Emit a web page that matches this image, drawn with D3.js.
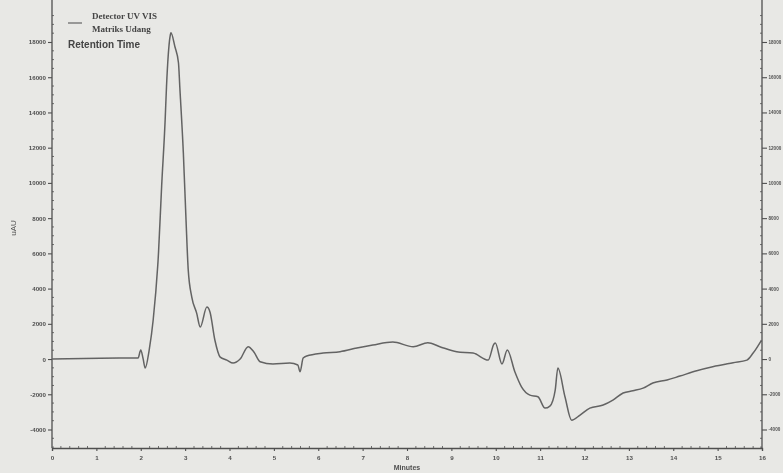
<!DOCTYPE html>
<html>
<head>
<meta charset="utf-8">
<script src="https://cdn.jsdelivr.net/npm/d3@7/dist/d3.min.js"></script>
<style>
  html, body { margin: 0; padding: 0; background: #e8e8e5; overflow: hidden; }
  svg { display: block; }
</style>
</head>
<body>
<script>
// Chromatogram: UV-VIS detector response (uAU) against retention time (minutes)
const retentionTime = [0, 1.08, 1.94, 2.00, 2.05, 2.10, 2.19, 2.28, 2.40, 2.47, 2.55, 2.58, 2.66, 2.68,
  2.77, 2.85, 2.88, 2.96, 3.02, 3.07, 3.15, 3.26, 3.34, 3.49, 3.56, 3.67, 3.79, 3.94, 4.08, 4.24,
  4.42, 4.55, 4.69, 4.98, 5.36, 5.54, 5.59, 5.66, 5.74, 6.11, 6.49, 6.87, 7.23, 7.68, 8.14, 8.47,
  8.74, 9.12, 9.49, 9.83, 9.96, 9.99, 10.14, 10.26, 10.43, 10.58, 10.77, 10.95, 11.11, 11.22, 11.34,
  11.40, 11.56, 11.71, 11.90, 12.12, 12.42, 12.64, 12.87, 13.09, 13.32, 13.54, 13.86, 14.15, 14.53,
  14.89, 15.35, 15.66, 15.80, 15.99];
const response = [0, 50, 60, 510, 60, -510, 510, 2215, 6020, 9770, 13580, 15450, 18300, 18520,
  17730, 16820, 15450, 11700, 7900, 5060, 3520, 2610, 1820, 2950, 2670, 1080, 110, -60, -230, 0,
  700, 400, -150, -280, -230, -340, -720, 60, 170, 340, 415, 625, 795, 965, 700, 925,
  700, 415, 340, -60, 850, 910, -280, 510, -720, -1575, -2045, -2140, -2785, -2670, -1760,
  -510, -2140, -3470, -3180, -2785, -2610, -2330, -1930, -1800, -1650, -1360, -1190, -965, -665,
  -440, -210, -60, 340, 1080];

const yTicks = [-4000, -2000, 0, 2000, 4000, 6000, 8000, 10000, 12000, 14000, 16000, 18000];
const xTicks = d3.range(0, 17);
const legendLines = ["Detector UV VIS", "Matriks Udang"];
const axisTitleX = "Minutes";
const axisTitleY = "uAU";
const chartTitle = "Retention Time";

const W = 783, H = 473;
const plotLeft = 52, plotRight = 762, plotTop = 5, plotBottom = 448;
const ink = "#4f4f4f";
const fmt = d => String(d); // plain hyphen for negatives

const x = d3.scaleLinear().domain([0, 16]).range([plotLeft, plotRight]);
const y = d3.scaleLinear().domain([-5050, 20100]).range([plotBottom, plotTop]);

const svg = d3.select("body").append("svg").attr("width", W).attr("height", H);

const defs = svg.append("defs");
defs.append("filter").attr("id", "soft")
  .append("feGaussianBlur").attr("stdDeviation", 0.45);

svg.append("rect").attr("width", W).attr("height", H).attr("fill", "#e8e8e5");

const g = svg.append("g").attr("filter", "url(#soft)");

// left axis
const yLeft = d3.axisLeft(y).tickValues(yTicks).tickSize(4).tickPadding(2).tickFormat(fmt);
const gl = g.append("g").attr("transform", `translate(${plotLeft},0)`).call(yLeft);
// right axis
const yRight = d3.axisRight(y).tickValues(yTicks).tickSize(5).tickPadding(1.5).tickFormat(fmt);
const gr = g.append("g").attr("transform", `translate(${plotRight},0)`).call(yRight);
// bottom axis
const xAxis = d3.axisBottom(x).tickValues(xTicks).tickSize(3).tickPadding(5).tickFormat(fmt);
const gb = g.append("g").attr("transform", `translate(0,${plotBottom})`).call(xAxis);

[gl, gr, gb].forEach(a => {
  a.select(".domain").attr("stroke", ink).attr("stroke-width", 1.3);
  a.selectAll(".tick line").attr("stroke", ink).attr("stroke-width", 1.1);
  a.selectAll(".tick text").attr("fill", ink).attr("font-family", "Liberation Sans, Arial, sans-serif")
    .attr("font-size", 6.2).attr("font-weight", "bold");
});
gr.selectAll(".tick text").attr("font-size", 4.6);
// vertical axis lines run to the top edge of the frame
gl.select(".domain").attr("d", `M0,0V${plotBottom}`);
gr.select(".domain").attr("d", `M0,0V${plotBottom}`);

// minor ticks
const yMinor = d3.range(-5000, 20001, 500).filter(v => v % 2000 !== 0);
g.append("g").selectAll("line").data(yMinor).join("line")
  .attr("x1", plotLeft).attr("x2", plotLeft + 2).attr("y1", d => y(d)).attr("y2", d => y(d))
  .attr("stroke", ink).attr("stroke-width", 0.8);
g.append("g").selectAll("line").data(yMinor).join("line")
  .attr("x1", plotRight - 2).attr("x2", plotRight).attr("y1", d => y(d)).attr("y2", d => y(d))
  .attr("stroke", ink).attr("stroke-width", 0.8);
const xMinor = d3.range(0, 16.01, 0.2).filter(v => Math.abs(v - Math.round(v)) > 0.01);
g.append("g").selectAll("line").data(xMinor).join("line")
  .attr("x1", d => x(d)).attr("x2", d => x(d)).attr("y1", plotBottom - 2).attr("y2", plotBottom)
  .attr("stroke", ink).attr("stroke-width", 0.8);

// axis titles
g.append("text").attr("x", x(8)).attr("y", 470).attr("text-anchor", "middle")
  .attr("font-family", "Liberation Sans, Arial, sans-serif").attr("font-size", 7).attr("font-weight", "bold")
  .attr("fill", ink).text(axisTitleX);
g.append("text").attr("transform", "translate(16,228) rotate(-90)").attr("text-anchor", "middle")
  .attr("font-family", "Liberation Sans, Arial, sans-serif").attr("font-size", 8)
  .attr("fill", ink).text(axisTitleY);

// trace
const pts = retentionTime.map((t, i) => [t, response[i]]);
const line = d3.line().x(d => x(d[0])).y(d => y(d[1])).curve(d3.curveMonotoneX);
g.append("path").datum(pts).attr("d", line).attr("fill", "none")
  .attr("stroke", "#636363").attr("stroke-width", 1.5).attr("stroke-linejoin", "round");

// legend
g.append("line").attr("x1", 68).attr("x2", 82).attr("y1", 23).attr("y2", 23)
  .attr("stroke", "#636363").attr("stroke-width", 1.2);
g.selectAll(".leg").data(legendLines).join("text").attr("class", "leg")
  .attr("x", 92).attr("y", (d, i) => 19 + i * 13)
  .attr("font-family", "Liberation Serif, Times New Roman, serif").attr("font-size", 9)
  .attr("font-weight", "bold").attr("fill", "#444").text(d => d);
g.append("text").attr("x", 68).attr("y", 48)
  .attr("font-family", "Liberation Sans, Arial, sans-serif").attr("font-size", 10)
  .attr("font-weight", "bold").attr("fill", "#444").text(chartTitle);
</script>
</body>
</html>
